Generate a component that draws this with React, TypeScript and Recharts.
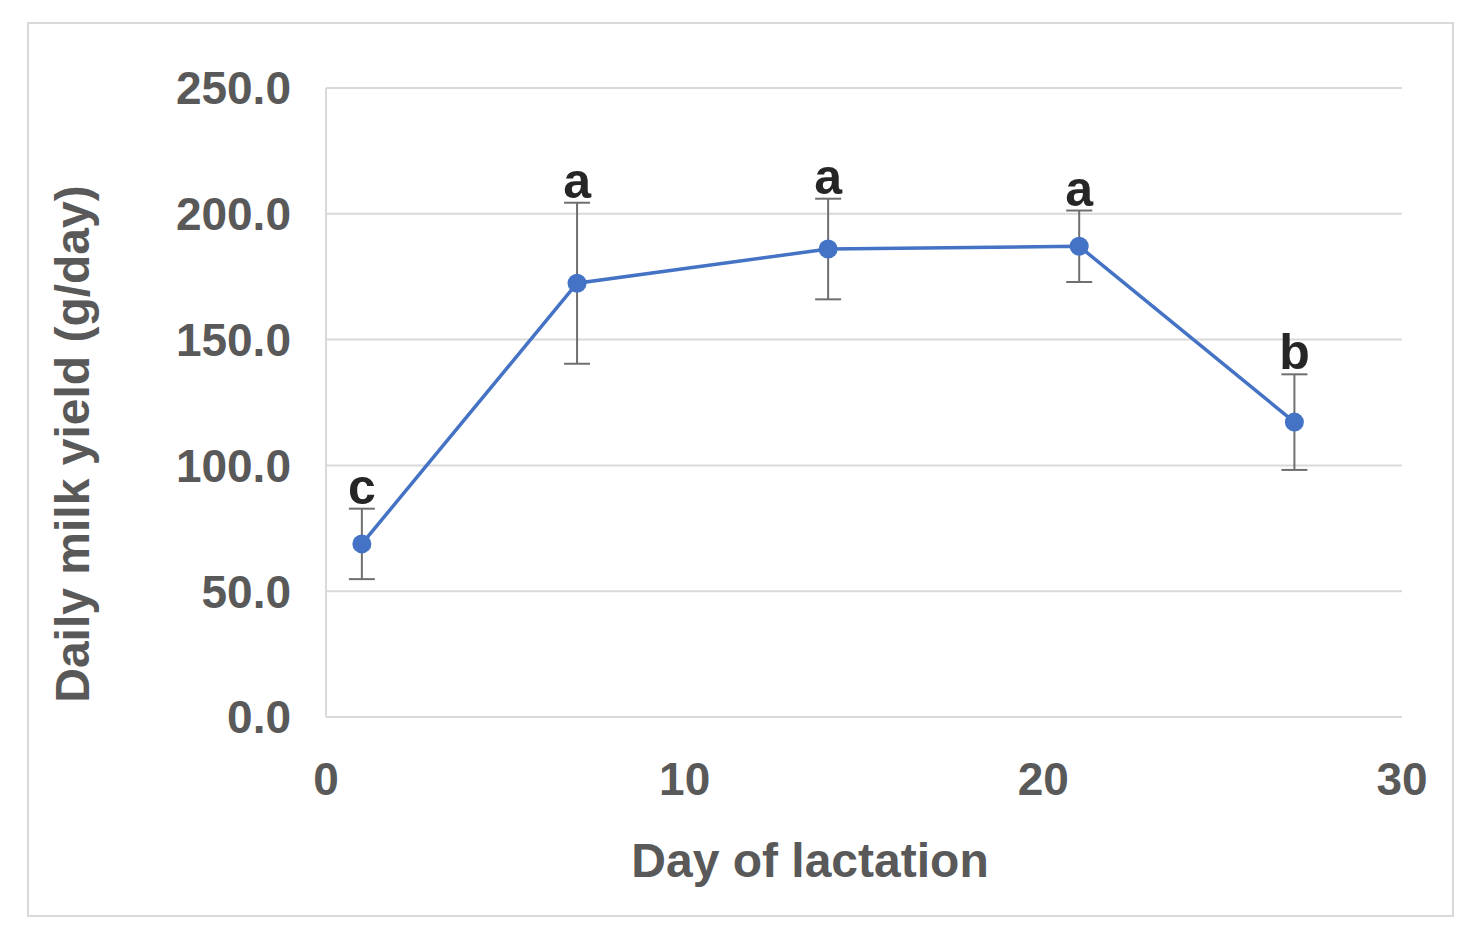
import React from 'react';
import { LineChart, Line, XAxis, YAxis, CartesianGrid, ErrorBar, LabelList } from 'recharts';

const days = [1, 7, 14, 21, 27];
const milkYield = [68.8, 172.4, 186.0, 187.1, 117.2];
const yieldError = [14, 32, 20, 14.2, 19];
const letters = ['c', 'a', 'a', 'a', 'b'];
const xTicks = [0, 10, 20, 30];
const yTicks = [0, 50, 100, 150, 200, 250];

const font = '"Liberation Sans", Arial, sans-serif';
const gray = '#595959';
const lineBlue = '#4472C4';

const data = days.map((day, i) => ({
  day,
  milk: milkYield[i],
  err: yieldError[i],
  top: milkYield[i] + yieldError[i],
  letter: letters[i],
}));

const tickStyle = { fontFamily: font, fontWeight: 700, fontSize: 46, fill: gray };

export default function App() {
  return (
    <div style={{ position: 'absolute', left: 0, top: 0, width: 1471, height: 937, background: '#fff' }}>
      <div
        style={{
          position: 'absolute',
          left: 27,
          top: 22,
          width: 1423,
          height: 891,
          border: '2px solid #d9d9d9',
        }}
      />
      <div style={{ position: 'absolute', left: 0, top: 0 }}>
        <LineChart width={1471} height={937} data={data} margin={{ top: 88, right: 69, bottom: 0, left: 36 }}>
          <CartesianGrid vertical={false} stroke="#d9d9d9" strokeWidth={2} />
          <XAxis
            dataKey="day"
            type="number"
            domain={[0, 30]}
            ticks={xTicks}
            tickLine={false}
            tickSize={0}
            tickMargin={45}
            axisLine={{ stroke: '#d9d9d9', strokeWidth: 2 }}
            tick={tickStyle}
            height={220}
          />
          <YAxis
            type="number"
            domain={[0, 250]}
            ticks={yTicks}
            tickFormatter={(v: number) => v.toFixed(1)}
            tickLine={false}
            tickSize={0}
            tickMargin={35}
            axisLine={{ stroke: '#d9d9d9', strokeWidth: 2 }}
            tick={tickStyle}
            width={290}
          />
          <Line
            dataKey="milk"
            stroke={lineBlue}
            strokeWidth={3.5}
            dot={{ r: 9.5, fill: lineBlue, stroke: lineBlue, strokeWidth: 0 }}
            activeDot={false}
            isAnimationActive={false}
          >
            <ErrorBar dataKey="err" width={13} stroke="#6f6f6f" strokeWidth={2} direction="y" />
          </Line>
          <Line
            dataKey="top"
            stroke="none"
            dot={false}
            activeDot={false}
            legendType="none"
            isAnimationActive={false}
          >
            <LabelList
              dataKey="letter"
              position="top"
              offset={5}
              style={{ fontFamily: font, fontWeight: 700, fontSize: 50, fill: '#262626' }}
            />
          </Line>
        </LineChart>
      </div>
      <div
        style={{
          position: 'absolute',
          left: 810,
          top: 860,
          transform: 'translate(-50%, -50%)',
          whiteSpace: 'nowrap',
          fontFamily: font,
          fontWeight: 700,
          fontSize: 48,
          color: gray,
        }}
      >
        Day of lactation
      </div>
      <div
        style={{
          position: 'absolute',
          left: 72,
          top: 444,
          transform: 'translate(-50%, -50%) rotate(-90deg)',
          whiteSpace: 'nowrap',
          fontFamily: font,
          fontWeight: 700,
          fontSize: 48,
          color: gray,
        }}
      >
        Daily milk yield (g/day)
      </div>
    </div>
  );
}
